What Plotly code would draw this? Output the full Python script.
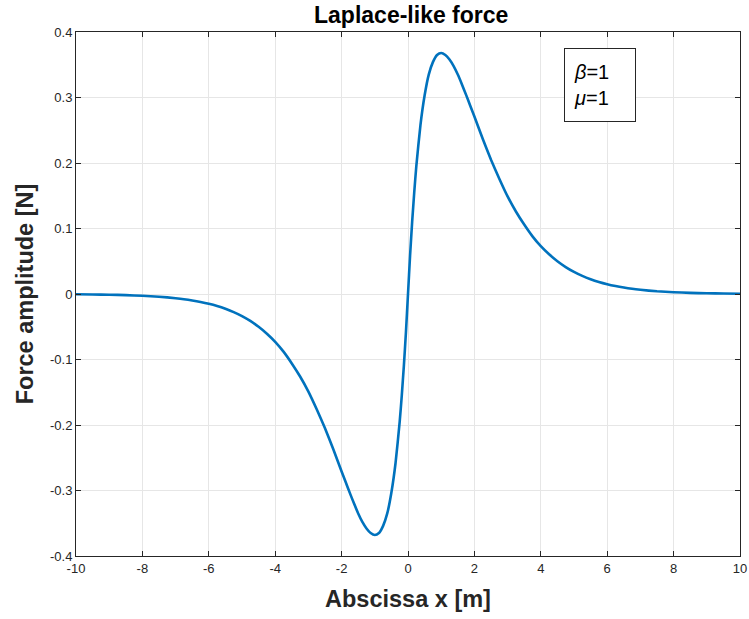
import plotly.graph_objects as go

# Values (positive half; the curve is point-symmetric)
x_pos = [0, 0.0625, 0.125, 0.1875, 0.25, 0.375, 0.5, 0.625, 0.75, 0.875, 1.0, 1.125, 1.25, 1.375,
         1.5, 1.625, 1.75, 1.875, 2.0, 2.25, 2.5, 2.75, 3.0, 3.25, 3.5, 3.75, 4.0, 4.25, 4.5, 4.75,
         5.0, 5.25, 5.5, 5.75, 6.0, 6.25, 6.5, 6.75, 7.0, 7.5, 8.0, 8.5, 9.0, 9.5, 10.0]
y_pos = [0, 0.0587, 0.110, 0.155, 0.195, 0.258, 0.303, 0.335, 0.354, 0.365, 0.368, 0.365, 0.358, 0.348,
         0.335, 0.320, 0.304, 0.2875, 0.271, 0.237, 0.205, 0.176, 0.149, 0.126, 0.106, 0.088, 0.073,
         0.0606, 0.050, 0.0411, 0.0337, 0.0276, 0.0225, 0.0183, 0.0149, 0.0121, 0.0098, 0.0079, 0.0064,
         0.0041, 0.0027, 0.0017, 0.0011, 0.0007, 0.00045]

x_vals = [-v for v in reversed(x_pos[1:])] + x_pos
y_vals = [-v for v in reversed(y_pos[1:])] + y_pos

x_ticks = [-10, -8, -6, -4, -2, 0, 2, 4, 6, 8, 10]
y_ticks = [-0.4, -0.3, -0.2, -0.1, 0, 0.1, 0.2, 0.3, 0.4]
y_tick_text = ["-0.4", "-0.3", "-0.2", "-0.1", "0", "0.1", "0.2", "0.3", "0.4"]

fig = go.Figure()
fig.add_trace(go.Scatter(x=x_vals, y=y_vals, mode="lines",
                         line=dict(color="#0072BD", width=2.6, shape="spline", smoothing=0.5),
                         showlegend=False, hoverinfo="skip"))

font_family = "Liberation Sans, Arial, Helvetica, sans-serif"
axis_common = dict(showline=True, linecolor="#262626", linewidth=1, mirror="ticks",
                   ticks="inside", ticklen=5, tickcolor="#262626", automargin=False,
                   showgrid=True, gridcolor="#e6e6e6", gridwidth=1, zeroline=False,
                   tickfont=dict(family=font_family, size=13, color="#262626"))

fig.update_layout(
    width=749, height=619,
    margin=dict(l=76, r=9, t=32, b=63),
    paper_bgcolor="white", plot_bgcolor="white",
    title=dict(text="<b>Laplace-like force</b>", x=0.549, xanchor="center", y=0.976, yanchor="middle",
               font=dict(family=font_family, size=23, color="black")),
    xaxis=dict(range=[-10, 10], tickvals=x_ticks, ticktext=[str(t) for t in x_ticks],
               title=dict(text="<b>Abscissa x [m]</b>", standoff=15,
                          font=dict(family=font_family, size=23.5, color="#262626")),
               **axis_common),
    yaxis=dict(range=[-0.4, 0.4], tickvals=y_ticks, ticktext=y_tick_text,
               title=dict(text="<b>Force amplitude [N]</b>", standoff=9,
                          font=dict(family=font_family, size=23.5, color="#262626")),
               **axis_common),
)

fig.add_annotation(xref="paper", yref="paper", x=0.735, y=0.969, xanchor="left", yanchor="top",
                   text="<i>β</i>=1<br><i>μ</i>=1", showarrow=False, align="left",
                   font=dict(family=font_family, size=20, color="black"),
                   bordercolor="#262626", borderwidth=1, borderpad=9, bgcolor="white",
                   width=52, height=54)

fig.write_html("out.html")
